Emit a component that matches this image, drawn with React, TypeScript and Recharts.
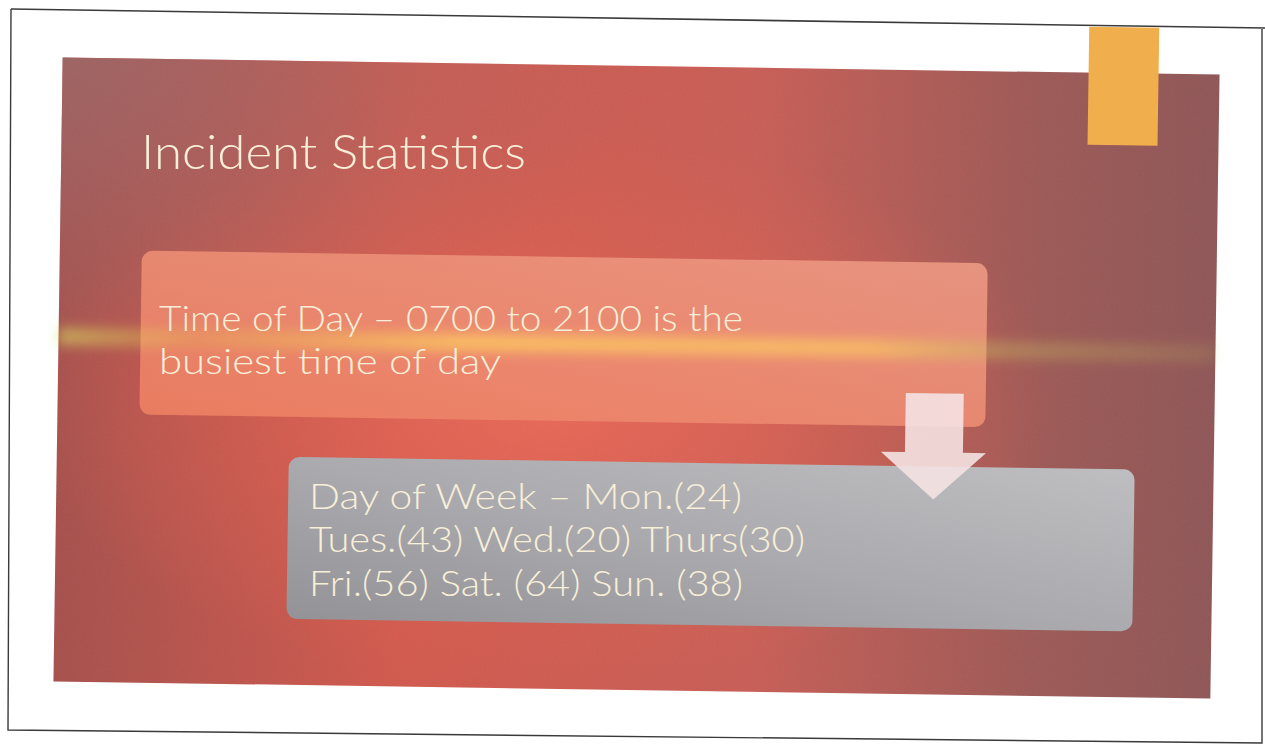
import { ComposedChart, Customized } from "recharts";

const titleText = "Incident Statistics";
const timeOfDayLines = ["Time of Day – 0700 to 2100 is the", "busiest time of day"];
const dayPrefix = "Day of Week – ";
const dayLabels = ["Mon.", "Tues.", "Wed.", "Thurs", "Fri.", "Sat. ", "Sun. "];
const dayCounts = [24, 43, 20, 30, 56, 64, 38];
// which line of the grey box each day sits on
const dayLine = [0, 1, 1, 1, 2, 2, 2];

const dayData = dayLabels.map((day, i) => ({ day, count: dayCounts[i], line: dayLine[i] }));

const FONT = "Lato, 'Open Sans', sans-serif";
const TEXT = "#f8efd8";

function dayRows() {
  const rows: string[] = ["", "", ""];
  dayData.forEach((d) => {
    const part = `${d.day}(${d.count})`;
    rows[d.line] = rows[d.line] ? `${rows[d.line]} ${part}` : part;
  });
  rows[0] = dayPrefix + rows[0];
  return rows;
}

function Slide() {
  const rows = dayRows();
  const rowWidths = [433, 496, 434];
  return (
    <g>
      <defs>
        <linearGradient id="bgBase" x1="0" y1="0" x2="1" y2="0">
          <stop offset="0" stopColor="#a64f4b" />
          <stop offset="0.3" stopColor="#d2584c" />
          <stop offset="0.6" stopColor="#c85d55" />
          <stop offset="0.85" stopColor="#9c5855" />
          <stop offset="1" stopColor="#8f5556" />
        </linearGradient>
        <radialGradient id="bgGlow" cx="0.42" cy="0.55" r="0.45">
          <stop offset="0" stopColor="#ee6a58" stopOpacity="0.85" />
          <stop offset="0.6" stopColor="#e0604f" stopOpacity="0.4" />
          <stop offset="1" stopColor="#e0604f" stopOpacity="0" />
        </radialGradient>
        <radialGradient id="bgCorner" cx="0" cy="0" r="0.5">
          <stop offset="0" stopColor="#9a6a6c" stopOpacity="0.7" />
          <stop offset="1" stopColor="#9a6a6c" stopOpacity="0" />
        </radialGradient>
        <linearGradient id="flare" x1="0" y1="0" x2="1" y2="0">
          <stop offset="0" stopColor="#d8e060" stopOpacity="0.55" />
          <stop offset="0.12" stopColor="#e8c050" stopOpacity="0.25" />
          <stop offset="0.35" stopColor="#ffd060" stopOpacity="0.7" />
          <stop offset="0.7" stopColor="#ffd060" stopOpacity="0.6" />
          <stop offset="0.82" stopColor="#c8c060" stopOpacity="0.35" />
          <stop offset="1" stopColor="#c8c060" stopOpacity="0.15" />
        </linearGradient>
        <linearGradient id="box1" x1="0" y1="1" x2="1" y2="0">
          <stop offset="0" stopColor="#ec7f62" />
          <stop offset="1" stopColor="#eb9883" />
        </linearGradient>
        <linearGradient id="box2" x1="0" y1="1" x2="1" y2="0">
          <stop offset="0" stopColor="#929297" />
          <stop offset="0.5" stopColor="#ababaf" />
          <stop offset="1" stopColor="#bebec1" />
        </linearGradient>
        <filter id="blur8" x="-10%" y="-200%" width="120%" height="500%">
          <feGaussianBlur stdDeviation="6" />
        </filter>
        <filter id="grain" x="0" y="0" width="100%" height="100%">
          <feTurbulence type="fractalNoise" baseFrequency="0.9" numOctaves="2" seed="3" />
          <feColorMatrix type="saturate" values="0" />
        </filter>
      </defs>

      <rect x={0} y={0} width={1265} height={746} fill="#ffffff" />
      <polyline points="11,9 1265,28" fill="none" stroke="#3a3a3a" strokeWidth={1.6} />
      <polyline points="11,9 8,730 1262,743 1262,29" fill="none" stroke="#3a3a3a" strokeWidth={1.4} />

      {/* the scanned slide sits slightly tilted on the page */}
      <g transform="rotate(0.85 636 378)">
        <rect x={58} y={66} width={1157} height={624} fill="url(#bgBase)" />
        <rect x={58} y={66} width={1157} height={624} fill="url(#bgGlow)" />
        <rect x={58} y={66} width={1157} height={624} fill="url(#bgCorner)" />
        <rect x={58} y={66} width={1157} height={624} filter="url(#grain)" opacity={0.07} />

        <rect x={1084} y={20} width={70} height={118} fill="#f0ae4c" />

        <rect x={140} y={258} width={846} height={164} rx={11} fill="url(#box1)" opacity={0.92} />
        <rect x={58} y={336} width={1157} height={18} fill="url(#flare)" filter="url(#blur8)" />
        <rect x={290} y={462} width={846} height={162} rx={11} fill="url(#box2)" />
        <path
          d="M906,389 L964,389 L964,448 L987,448 L935,495 L882,448 L906,448 Z"
          fill="#f4e2e2"
          opacity={0.9}
        />
      </g>

      <text
        x={141}
        y={169}
        fontFamily={FONT}
        fontWeight={300}
        fontSize={48}
        fill={TEXT}
        textLength={385}
        lengthAdjust="spacingAndGlyphs"
      >
        {titleText}
      </text>

      {timeOfDayLines.map((line, i) => (
        <text
          key={line}
          x={159}
          y={331 + i * 43}
          fontFamily={FONT}
          fontWeight={300}
          fontSize={35}
          fill={TEXT}
          textLength={i === 0 ? 584 : 342}
          lengthAdjust="spacingAndGlyphs"
        >
          {line}
        </text>
      ))}

      {rows.map((line, i) => (
        <text
          key={i}
          x={309}
          y={508.5 + i * 43.5}
          fontFamily={FONT}
          fontWeight={300}
          fontSize={35}
          fill={TEXT}
          textLength={rowWidths[i]}
          lengthAdjust="spacingAndGlyphs"
        >
          {line}
        </text>
      ))}
    </g>
  );
}

export default function App() {
  return (
    <div style={{ position: "absolute", left: 0, top: 0, width: 1265, height: 746, background: "#fff" }}>
      <ComposedChart width={1265} height={746} data={dayData} margin={{ top: 0, right: 0, bottom: 0, left: 0 }}>
        <Customized component={<Slide />} />
      </ComposedChart>
    </div>
  );
}
